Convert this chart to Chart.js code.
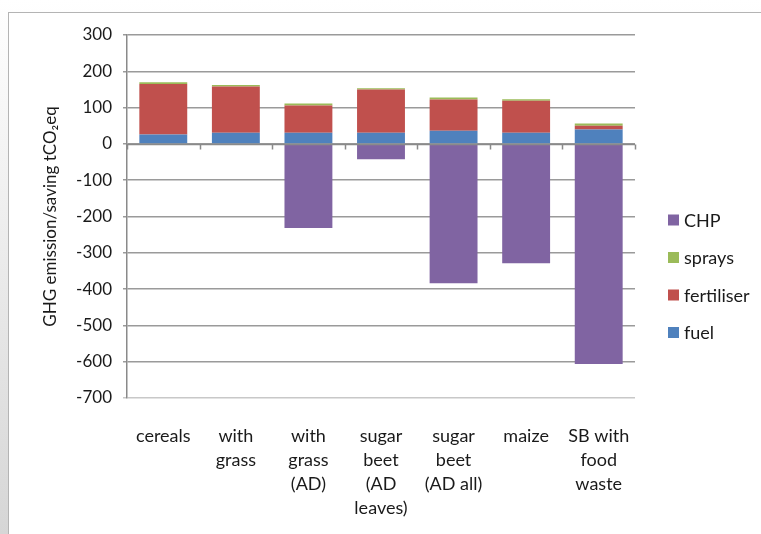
<!DOCTYPE html>
<html>
<head>
<meta charset="utf-8">
<script src="https://cdn.jsdelivr.net/npm/chart.js@4"></script>
<style>
	html, body { margin: 0; padding: 0; }
	body {
		width: 761px;
		height: 534px;
		overflow: hidden;
		background: linear-gradient(#ffffff, #d6d6d6);
		position: relative;
	}
	#frame {
		position: absolute;
		left: 8px;
		top: 12px;
		width: 800px;
		height: 600px;
		border: 1px solid #b4b4b4;
		background: #ffffff;
	}
	#myChart { position: absolute; left: 0; top: 0; }
</style>
</head>
<body>
<div id="frame"></div>
<canvas id="myChart" width="761" height="534"></canvas>
<script>
var categories = [
	"cereals",
	["with", "grass"],
	["with", "grass", "(AD)"],
	["sugar", "beet", "(AD", "leaves)"],
	["sugar", "beet", "(AD all)"],
	"maize",
	["SB with", "food", "waste"]
];
var fuel = [26, 31, 31, 31, 36, 31, 40];
var fertiliser = [139, 127, 75, 119, 86, 88, 10];
var sprays = [5, 4, 5, 3, 6, 4, 6];
var chp = [0, 0, -232, -42, -384, -329, -606];
var yTicks = [300, 200, 100, 0, -100, -200, -300, -400, -500, -600, -700];

var fontName = "Lato, 'Open Sans', sans-serif";
var textColor = "#1a1a1a";

// legend on the right, CHP first like the stacked order reversed
var sideLegend = {
	id: "sideLegend",
	afterDraw: function (chart) {
		var ctx = chart.ctx;
		var sets = chart.data.datasets.slice().reverse();
		ctx.save();
		ctx.font = "18px " + fontName;
		ctx.textBaseline = "middle";
		ctx.textAlign = "left";
		for (var i = 0; i < sets.length; i++) {
			var y = 220 + i * 37.5;
			ctx.fillStyle = sets[i].backgroundColor;
			ctx.fillRect(668, y - 5.5, 11, 11);
			ctx.fillStyle = textColor;
			ctx.fillText(sets[i].label, 684, y + 1);
		}
		ctx.restore();
	}
};

// zero line with the category tick marks hanging below it
var zeroAxis = {
	id: "zeroAxis",
	afterDatasetsDraw: function (chart) {
		var xs = chart.scales.x;
		var ys = chart.scales.y;
		var y0 = Math.round(ys.getPixelForValue(0)) + 0.5;
		var ctx = chart.ctx;
		var step = (xs.right - xs.left) / categories.length;
		ctx.save();
		ctx.strokeStyle = "#8a8a8a";
		ctx.lineWidth = 1.5;
		ctx.beginPath();
		ctx.moveTo(xs.left, y0);
		ctx.lineTo(xs.right, y0);
		for (var i = 0; i <= categories.length; i++) {
			var x = Math.round(xs.left + i * step) + 0.5;
			ctx.moveTo(x, y0);
			ctx.lineTo(x, y0 + 5);
		}
		ctx.stroke();
		ctx.restore();
	}
};

new Chart("myChart", {
	type: "bar",
	data: {
		labels: categories,
		datasets: [
			{ label: "fuel", data: fuel, backgroundColor: "#4F81BD" },
			{ label: "fertiliser", data: fertiliser, backgroundColor: "#C0504D" },
			{ label: "sprays", data: sprays, backgroundColor: "#9BBB59" },
			{ label: "CHP", data: chp, backgroundColor: "#8064A2" }
		]
	},
	plugins: [sideLegend, zeroAxis],
	options: {
		responsive: false,
		animation: false,
		layout: { padding: { top: 35, right: 126, bottom: 0, left: 0 } },
		datasets: {
			bar: { categoryPercentage: 1, barPercentage: 0.66 }
		},
		plugins: {
			legend: { display: false },
			tooltip: { enabled: false }
		},
		scales: {
			x: {
				stacked: true,
				grid: { display: false },
				border: { display: false },
				ticks: {
					color: textColor,
					font: { family: fontName, size: 18, lineHeight: 1.3333 },
					padding: 18,
					maxRotation: 0,
					autoSkip: false
				},
				afterFit: function (scale) {
					scale.height = 136;
				}
			},
			y: {
				stacked: true,
				min: -700,
				max: 300,
				afterBuildTicks: function (scale) {
					scale.ticks = yTicks.map(function (v) { return { value: v }; });
				},
				grid: {
					color: function (c) {
						if (c.tick && c.tick.value === -700) return "#c8c8c8";
						return "#9a9a9a";
					},
					lineWidth: 1.5,
					tickLength: 4
				},
				border: { color: "#8a8a8a", width: 1.5 },
				ticks: {
					color: textColor,
					font: { family: fontName, size: 17 },
					padding: 11
				},
				title: {
					display: true,
					text: "GHG emission/saving tCO\u2082eq",
					color: textColor,
					font: { family: fontName, size: 17 },
					padding: { top: 40, bottom: 0 }
				},
				afterFit: function (scale) {
					scale.width = 127;
				}
			}
		}
	}
});
</script>
</body>
</html>
